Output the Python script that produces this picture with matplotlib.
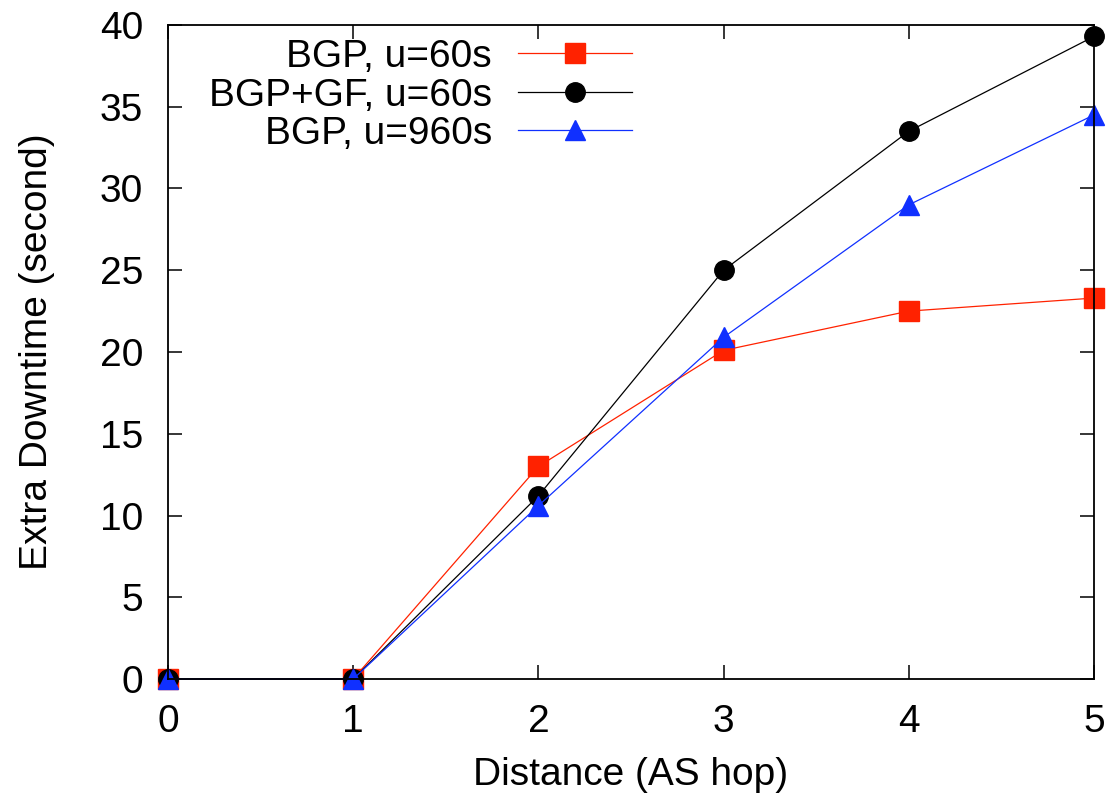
import matplotlib
matplotlib.use("Agg")
import matplotlib.pyplot as plt

FONTSIZE = 28

# distance in AS hops
hops = [0, 1, 2, 3, 4, 5]

# extra downtime (seconds)
bgp_u60 = [0, 0, 13.0, 20.1, 22.5, 23.3]
bgp_gf_u60 = [0, 0, 11.2, 25.0, 33.5, 39.3]
bgp_u960 = [0, 0, 10.6, 20.9, 29.0, 34.5]

plt.rcParams["font.family"] = ["Liberation Sans", "DejaVu Sans"]

fig = plt.figure(figsize=(11.12, 7.96), dpi=100)
ax = fig.add_axes([168 / 1112, 1 - 679 / 796, (1094 - 168) / 1112, (679 - 25) / 796])

series = [
    (bgp_u60, "BGP, u=60s", "#ff2200", "s"),
    (bgp_gf_u60, "BGP+GF, u=60s", "black", "o"),
    (bgp_u960, "BGP, u=960s", "#1030ff", "^"),
]
for ys, label, color, marker in series:
    ax.plot(hops, ys, color=color, lw=0.9, marker=marker, ms=14,
            mec=color, mfc=color, label=label, clip_on=False)

ax.set_xlim(0, 5)
ax.set_ylim(0, 40)
ax.set_xticks(hops)
ax.set_yticks(range(0, 41, 5))
ax.tick_params(direction="in", length=10, width=1.1, top=True, right=True,
               labelsize=FONTSIZE, pad=18)
for sp in ax.spines.values():
    sp.set_linewidth(1.3)

ax.set_xlabel("Distance (AS hop)", fontsize=FONTSIZE, labelpad=12)
ax.set_ylabel("Extra Downtime (second)", fontsize=FONTSIZE, labelpad=32)

ax.legend(loc="upper right", bbox_to_anchor=(632 / 1112, 1 - 39 / 796),
          bbox_transform=fig.transFigure, frameon=False, markerfirst=False,
          fontsize=FONTSIZE, handlelength=2.93, handletextpad=0.67,
          labelspacing=0.065, borderpad=0, borderaxespad=0)

fig.savefig("out.png", dpi=100)
